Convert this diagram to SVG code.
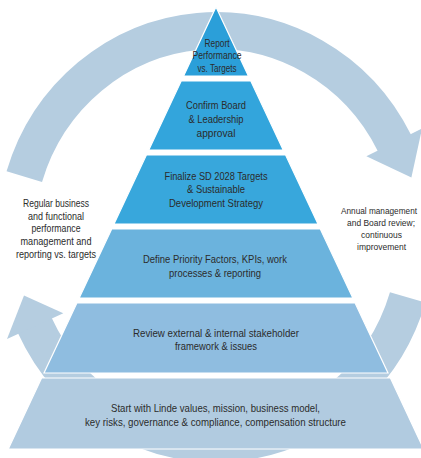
<svg xmlns="http://www.w3.org/2000/svg" width="421" height="458" viewBox="0 0 421 458">
<style>
.ring{fill:none;stroke:#b5cde0;stroke-width:37;stroke-linecap:butt}
.head{fill:#b5cde0}
.tier{stroke:#ffffff;stroke-width:1.2;stroke-linejoin:miter}
text{font-family:"Liberation Sans",Arial,sans-serif;font-size:11px;fill:#2b2b2b;text-anchor:middle}
.small{font-size:8.8px}
</style>
<rect width="421" height="458" fill="#ffffff"/>
<g id="connectors">
<path class="ring" d="M 24.3 176.6 A 200.5 206.5 0 0 1 394.6 143.3"/>
<polygon class="head" points="366.4,156.2 422,128.6 411.4,177.4"/>
<path class="ring" d="M 407.7 297.4 A 200.5 206.5 0 0 1 34.7 325.3"/>
<polygon class="head" points="7,339 63.3,313.3 24,295.5"/>
</g>
<g id="tier1">
<polygon class="tier" fill="#2b9fd9" points="216,7 248.4,76 183.6,76"/>
<text x="217" y="46.5" textLength="25" lengthAdjust="spacingAndGlyphs">Report</text>
<text x="217" y="58.5" textLength="49" lengthAdjust="spacingAndGlyphs">Performance</text>
<text x="217" y="71.5" textLength="39" lengthAdjust="spacingAndGlyphs">vs. Targets</text>
</g>
<g id="tier2">
<polygon class="tier" fill="#33a5dc" points="181.2,81 250.8,81 283.2,150 148.8,150"/>
<text x="216" y="109" textLength="60" lengthAdjust="spacingAndGlyphs">Confirm Board</text>
<text x="216" y="123" textLength="55" lengthAdjust="spacingAndGlyphs">&amp; Leadership</text>
<text x="216" y="136.5" textLength="39" lengthAdjust="spacingAndGlyphs">approval</text>
</g>
<g id="tier3">
<polygon class="tier" fill="#38a7dc" points="146.4,155 285.6,155 318,224 114,224"/>
<text x="216" y="180" textLength="103" lengthAdjust="spacingAndGlyphs">Finalize SD 2028 Targets</text>
<text x="216" y="193" textLength="58" lengthAdjust="spacingAndGlyphs">&amp; Sustainable</text>
<text x="216" y="207" textLength="94" lengthAdjust="spacingAndGlyphs">Development Strategy</text>
</g>
<g id="tier4">
<polygon class="tier" fill="#6bb3dd" points="111.7,229 320.3,229 352.8,298 79.2,298"/>
<text x="215" y="263" textLength="144" lengthAdjust="spacingAndGlyphs">Define Priority Factors, KPIs, work</text>
<text x="215" y="277" textLength="92" lengthAdjust="spacingAndGlyphs">processes &amp; reporting</text>
</g>
<g id="tier5">
<polygon class="tier" fill="#8fbde0" points="76.9,303 355.1,303 388,373 44,373"/>
<text x="216" y="337" textLength="166" lengthAdjust="spacingAndGlyphs">Review external &amp; internal stakeholder</text>
<text x="216" y="350" textLength="82" lengthAdjust="spacingAndGlyphs">framework &amp; issues</text>
</g>
<g id="tier6">
<polygon class="tier" fill="#b1cbe0" points="41.6,378 390.4,378 423.7,449 8.3,449"/>
<text x="215.5" y="412" textLength="209" lengthAdjust="spacingAndGlyphs">Start with Linde values, mission, business model,</text>
<text x="215.5" y="426" textLength="261" lengthAdjust="spacingAndGlyphs">key risks, governance &amp; compliance, compensation structure</text>
</g>
<g id="label-left">
<text x="56" y="207" textLength="66" lengthAdjust="spacingAndGlyphs">Regular business</text>
<text x="56" y="220" textLength="56" lengthAdjust="spacingAndGlyphs">and functional</text>
<text x="56" y="232" textLength="49" lengthAdjust="spacingAndGlyphs">performance</text>
<text x="56" y="245" textLength="71" lengthAdjust="spacingAndGlyphs">management and</text>
<text x="56" y="258" textLength="80" lengthAdjust="spacingAndGlyphs">reporting vs. targets</text>
</g>
<g id="label-right">
<text class="small" x="379" y="214" textLength="76" lengthAdjust="spacingAndGlyphs">Annual management</text>
<text class="small" x="381" y="226" textLength="68" lengthAdjust="spacingAndGlyphs">and Board review;</text>
<text class="small" x="381.5" y="238" textLength="41" lengthAdjust="spacingAndGlyphs">continuous</text>
<text class="small" x="381.5" y="250" textLength="49" lengthAdjust="spacingAndGlyphs">improvement</text>
</g>
</svg>
